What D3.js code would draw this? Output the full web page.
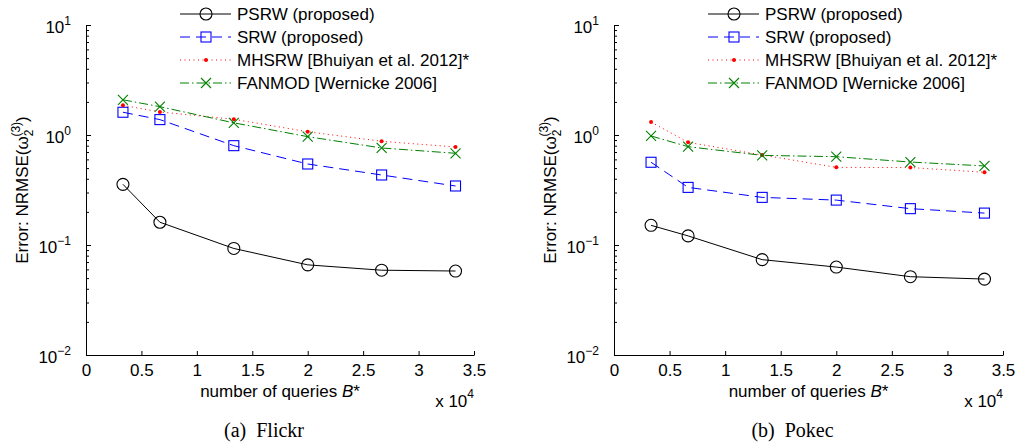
<!DOCTYPE html>
<html>
<head>
<meta charset="utf-8">
<script src="https://cdn.jsdelivr.net/npm/d3@7"></script>
<style>
  body { margin: 0; background: #fff; }
  svg { display: block; font-family: "Liberation Sans", Arial, sans-serif; }
</style>
</head>
<body>
<svg width="1018" height="447"></svg>
<script>
// Query budgets (x values)
const queries = [3333, 6667, 13333, 20000, 26667, 33333];

// Flickr
const psrwFlickr = [0.356, 0.161, 0.093, 0.066, 0.059, 0.058];
const srwFlickr = [1.61, 1.38, 0.80, 0.545, 0.433, 0.344];
const mhsrwFlickr = [1.86, 1.62, 1.39, 1.07, 0.877, 0.778];
const fanmodFlickr = [2.09, 1.81, 1.29, 0.966, 0.762, 0.682];

// Pokec
const psrwPokec = [0.151, 0.121, 0.0736, 0.063, 0.0515, 0.049];
const srwPokec = [0.565, 0.334, 0.271, 0.256, 0.214, 0.195];
const mhsrwPokec = [1.31, 0.858, 0.658, 0.508, 0.506, 0.458];
const fanmodPokec = [0.98, 0.783, 0.653, 0.635, 0.568, 0.523];

const seriesNames = ["PSRW (proposed)", "SRW (proposed)", "MHSRW [Bhuiyan et al. 2012]*", "FANMOD [Wernicke 2006]"];
const xTicks = [0, 5000, 10000, 15000, 20000, 25000, 30000, 35000];
const yDecades = [1e-2, 1e-1, 1, 10];
const yExponents = ["\u22122", "\u22121", "0", "1"];
const captions = ["(a)  Flickr", "(b)  Pokec"];

const styles = [
  { color: "#000", dash: null, width: 1, marker: "circle" },
  { color: "#00f", dash: "10,6", width: 1, marker: "square" },
  { color: "#f00", dash: "1,3.5", width: 1, marker: "dot" },
  { color: "#008000", dash: "9,3,1.5,3", width: 1, marker: "x" }
];

const svg = d3.select("svg");

function drawMarker(sel, type, color) {
  if (type === "circle") {
    sel.append("circle").attr("r", 6).attr("fill", "none").attr("stroke", color).attr("stroke-width", 1.1);
  } else if (type === "square") {
    sel.append("rect").attr("x", -5).attr("y", -5).attr("width", 10).attr("height", 10)
       .attr("fill", "none").attr("stroke", color).attr("stroke-width", 1.1);
  } else if (type === "dot") {
    sel.append("circle").attr("r", 2).attr("fill", color);
  } else {
    sel.append("path").attr("d", "M-5,-5L5,5M-5,5L5,-5").attr("stroke", color).attr("stroke-width", 1.1);
  }
}

function drawPanel(left, right, series, caption) {
  const top = 25, bottom = 355;
  const g = svg.append("g");

  const x = d3.scaleLinear().domain([0, 35000]).range([left, right]);
  const y = d3.scaleLog().domain([1e-2, 10]).range([bottom, top]);

  // x axis
  g.append("g")
   .attr("transform", `translate(0,${bottom})`)
   .call(d3.axisBottom(x).tickValues(xTicks).tickSizeInner(-4).tickSizeOuter(0).tickPadding(9)
         .tickFormat(d => d3.format("")(d / 1e4)))
   .call(a => a.selectAll("text").attr("font-size", 17).attr("font-family", "Liberation Sans, Arial, sans-serif").attr("fill", "#000"))
   .call(a => a.select(".domain").attr("stroke", "#000"));

  // minor y ticks
  const minor = [];
  yDecades.slice(0, 3).forEach(d => { for (let k = 2; k <= 9; k++) minor.push(d * k); });
  g.append("g")
   .attr("transform", `translate(${left},0)`)
   .call(d3.axisLeft(y).tickValues(minor).tickSizeInner(-3).tickSizeOuter(0).tickFormat(""))
   .call(a => a.select(".domain").remove());

  // major y ticks
  g.append("g")
   .attr("transform", `translate(${left},0)`)
   .call(d3.axisLeft(y).tickValues(yDecades).tickSizeInner(-5).tickSizeOuter(0).tickFormat(""))
   .call(a => a.select(".domain").attr("stroke", "#000"));

  // y tick labels with exponents
  yDecades.forEach((d, i) => {
    const t = g.append("text")
      .attr("x", left - 15).attr("y", y(d) + 8)
      .attr("text-anchor", "end").attr("font-size", 17);
    t.append("tspan").text("10");
    t.append("tspan").attr("font-size", 12).attr("dy", -8).text(yExponents[i]);
  });

  // y label
  const yl = g.append("text")
    .attr("transform", `translate(${left - 58},${(top + bottom) / 2}) rotate(-90)`)
    .attr("text-anchor", "middle").attr("font-size", 17);
  yl.append("tspan").text("Error: NRMSE(\u03C9");
  yl.append("tspan").attr("font-size", 12).attr("dy", 5).text("2");
  yl.append("tspan").attr("font-size", 12).attr("dx", -7).attr("dy", -13).text("(3)");
  yl.append("tspan").attr("dy", 8).text(")");

  // x label
  const xl = g.append("text")
    .attr("x", (left + right) / 2).attr("y", 397)
    .attr("text-anchor", "middle").attr("font-size", 17);
  xl.append("tspan").text("number of queries ");
  xl.append("tspan").attr("font-style", "italic").text("B");
  xl.append("tspan").text("*");

  const xm = g.append("text")
    .attr("x", right).attr("y", 407)
    .attr("text-anchor", "end").attr("font-size", 17);
  xm.append("tspan").text("x 10");
  xm.append("tspan").attr("font-size", 12).attr("dy", -9).text("4");

  // series
  const line = d3.line().x(d => x(d[0])).y(d => y(d[1]));
  series.forEach((vals, i) => {
    const s = styles[i];
    const pts = d3.zip(queries, vals);
    g.append("path").datum(pts)
     .attr("fill", "none").attr("stroke", s.color).attr("stroke-width", s.width)
     .attr("stroke-dasharray", s.dash).attr("d", line);
    pts.forEach(p => {
      const m = g.append("g").attr("transform", `translate(${x(p[0])},${y(p[1])})`);
      drawMarker(m, s.marker, s.color);
    });
  });

  // legend
  const lx = left + 94;
  seriesNames.forEach((name, i) => {
    const s = styles[i];
    const ly = 14 + i * 23;
    g.append("line").attr("x1", lx).attr("x2", lx + 51).attr("y1", ly).attr("y2", ly)
     .attr("stroke", s.color).attr("stroke-width", s.width).attr("stroke-dasharray", s.dash);
    const m = g.append("g").attr("transform", `translate(${lx + 26},${ly})`);
    drawMarker(m, s.marker, s.color);
    g.append("text").attr("x", lx + 57).attr("y", ly + 6).attr("font-size", 17).text(name);
  });

  // caption
  g.append("text")
   .attr("x", (left + right) / 2 - 16).attr("y", 437)
   .attr("text-anchor", "middle").attr("font-size", 20)
   .attr("font-family", "Liberation Serif, Times New Roman, serif")
   .attr("xml:space", "preserve").style("white-space", "pre")
   .text(caption);
}

drawPanel(86, 474, [psrwFlickr, srwFlickr, mhsrwFlickr, fanmodFlickr], captions[0]);
drawPanel(614, 1003, [psrwPokec, srwPokec, mhsrwPokec, fanmodPokec], captions[1]);
</script>
</body>
</html>
